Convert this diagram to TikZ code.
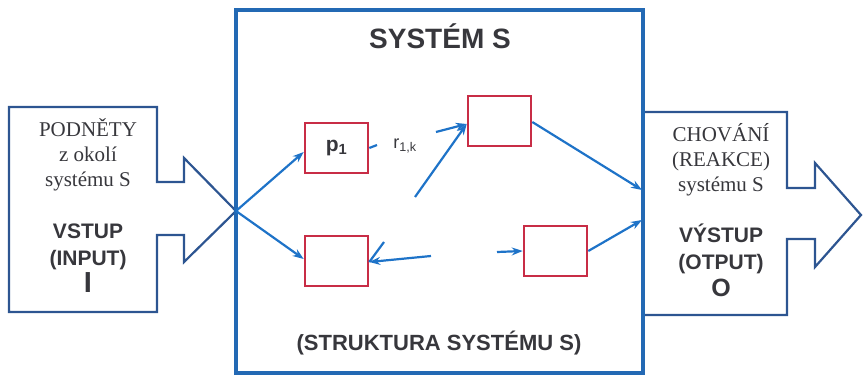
\documentclass[tikz,border=0pt]{standalone}
\usepackage{fontspec}
\usetikzlibrary{arrows.meta}
\setmainfont{Liberation Serif}
\setsansfont{Liberation Sans}
\definecolor{sysblue}{RGB}{35,105,180}
\definecolor{navy}{RGB}{45,85,145}
\definecolor{arrblue}{RGB}{30,115,200}
\definecolor{boxred}{RGB}{200,45,70}
\definecolor{ink}{RGB}{55,55,60}
\tikzset{
  blok/.style={draw=boxred, line width=2.6pt, minimum width=63pt, minimum height=50pt, inner sep=0pt},
  sip/.style={->, draw=arrblue, line width=2.2pt},
  serif/.style={text=ink, align=center, font=\rmfamily\fontsize{21}{25}\selectfont},
  tucne/.style={text=ink, align=center, font=\sffamily\bfseries\fontsize{21}{27}\selectfont}
}
\begin{document}
\begin{tikzpicture}[x=1pt, y=-1pt, >={Stealth[length=11pt,width=8pt]}]
\useasboundingbox (0,0) rectangle (864,377);
% vstup a vystup
\draw[navy, line width=2.2pt](157,107)--(9,107)--(9,312)--(157,312)--(157,235)--(184,235)--(184,262)--(236,211)--(184,158)--(184,182)--(157,182)--cycle;
\draw[navy, line width=2.2pt](643,112)--(787,112)--(787,188)--(815,188)--(815,163)--(861,215)--(815,267)--(815,239)--(787,239)--(787,315)--(643,315);
% system
\draw[sysblue, line width=4pt](236,10) rectangle (643,373);
\node[text=ink, font=\sffamily\bfseries\fontsize{28}{30}\selectfont](title) at (440,36){SYSTÉM S};
\node[text=ink, font=\sffamily\bfseries\fontsize{22}{25}\selectfont](struct) at (439,343){(STRUKTURA SYSTÉMU S)};
\node[serif](podnety) at (88,155){PODNĚTY\\z okolí\\systému S};
\node[tucne](vstup) at (88,258){VSTUP\\(INPUT)\\{\fontsize{29}{29}\selectfont I}};
\node[serif](chovani) at (721,160){CHOVÁNÍ\\(REAKCE)\\systému S};
\node[tucne](vystup) at (721,260){VÝSTUP\\(OTPUT)\\{\fontsize{25}{27}\selectfont O}};
% prvky
\node[blok, font=\sffamily\bfseries\fontsize{21}{23}\selectfont, text=ink](p1) at (336.5,148){p\textsubscript{1}};
\node[blok](q) at (499.5,121){};
\node[blok](u) at (336.5,261){};
\node[blok](w) at (555.5,251){};
\node[text=ink, font=\sffamily\fontsize{18}{20}\selectfont](r) at (405,146){r\textsubscript{1,k}};
% vazby
\coordinate(in) at (236,211);
\coordinate(o1) at (642,190);
\coordinate(o2) at (642,220);
\coordinate(a) at (415,197);
\coordinate(b) at (436,132);
\coordinate(c) at (497,252);
\coordinate(d) at (431,256);
\draw[sip](in)--([yshift=-4pt]p1.west);
\draw[sip](in)--([yshift=2pt]u.west);
\draw[arrblue, line width=2.2pt](p1.east)--(377,145);
\draw[sip](a)--([yshift=-3pt]q.west);
\draw[sip](b)--([yshift=-3pt]q.west);
\draw[sip]([yshift=-1pt]q.east)--(o1);
\draw[sip](w.east)--(o2);
\draw[sip](c)--(w.west);
\draw[sip](d)--([yshift=-1pt]u.east);
\draw[arrblue, line width=2.2pt]([yshift=-1pt]u.east)--(384,242);
\end{tikzpicture}
\end{document}
